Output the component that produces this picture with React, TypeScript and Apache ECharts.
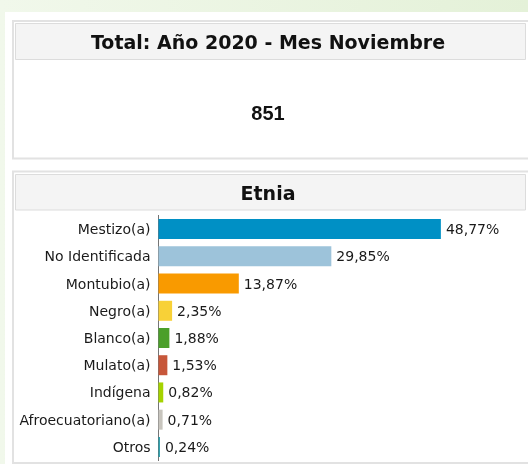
import React, { useEffect, useRef } from "react";
import * as echarts from "echarts";

const categories = [
  "Mestizo(a)",
  "No Identificada",
  "Montubio(a)",
  "Negro(a)",
  "Blanco(a)",
  "Mulato(a)",
  "Indígena",
  "Afroecuatoriano(a)",
  "Otros",
];
const values = [48.77, 29.85, 13.87, 2.35, 1.88, 1.53, 0.82, 0.71, 0.24];
const barColors = [
  "#0090c5",
  "#9dc3da",
  "#f99a00",
  "#f8d137",
  "#4b9f2a",
  "#c7573a",
  "#a5d300",
  "#c8c5be",
  "#1998a6",
];
const totalTitle = "Total: Año 2020 - Mes Noviembre";
const totalValue = 851;
const chartTitle = "Etnia";

const fmt = (v: number) => v.toFixed(2).replace(".", ",") + "%";

export default function App() {
  const ref = useRef<HTMLDivElement>(null);
  useEffect(() => {
    if (!ref.current) return;
    const chart = echarts.init(ref.current, undefined, { renderer: "svg" });
    const titleFont = "'DejaVu Sans', Tahoma, sans-serif";
    const labelFont = "'DejaVu Sans', Verdana, sans-serif";
    chart.setOption({
      animation: false,
      graphic: [
        {
          type: "rect",
          z: 0,
          shape: { x: 0, y: 0, width: 528, height: 464 },
          style: {
            fill: new echarts.graphic.LinearGradient(0, 0, 1, 0, [
              { offset: 0, color: "#f1f8eb" },
              { offset: 1, color: "#e4f1d8" },
            ]),
          },
        },
        {
          type: "rect",
          z: 0,
          shape: { x: 5, y: 12, width: 523, height: 452 },
          style: { fill: "#ffffff" },
        },
        {
          type: "rect",
          z: 0,
          shape: { x: 13, y: 21, width: 516, height: 137.5 },
          style: { fill: "#ffffff", stroke: "#e2e2e2", lineWidth: 2 },
        },
        {
          type: "rect",
          z: 0,
          shape: { x: 15.5, y: 23.5, width: 510, height: 36 },
          style: { fill: "#f4f4f4", stroke: "#dcdcdc", lineWidth: 1 },
        },
        {
          type: "text",
          z: 1,
          x: 268,
          y: 42,
          style: {
            text: totalTitle,
            fill: "#111111",
            font: "bold 19px " + titleFont,
            align: "center",
            verticalAlign: "middle",
          },
        },
        {
          type: "text",
          z: 1,
          x: 268,
          y: 112.5,
          style: {
            text: String(totalValue),
            fill: "#111111",
            font: "bold 20px 'Liberation Sans', Arial, sans-serif",
            align: "center",
            verticalAlign: "middle",
          },
        },
        {
          type: "rect",
          z: 0,
          shape: { x: 13, y: 171.5, width: 516, height: 291.5 },
          style: { fill: "#ffffff", stroke: "#e2e2e2", lineWidth: 2 },
        },
        {
          type: "rect",
          z: 0,
          shape: { x: 15.5, y: 174.5, width: 510, height: 35.5 },
          style: { fill: "#f4f4f4", stroke: "#dcdcdc", lineWidth: 1 },
        },
        {
          type: "text",
          z: 1,
          x: 268,
          y: 193,
          style: {
            text: chartTitle,
            fill: "#111111",
            font: "bold 19px " + titleFont,
            align: "center",
            verticalAlign: "middle",
          },
        },
      ],
      grid: {
        left: 158.5,
        top: 215.5,
        width: 347.4,
        height: 245,
        containLabel: false,
      },
      xAxis: {
        type: "value",
        min: 0,
        max: 60,
        show: false,
      },
      yAxis: {
        type: "category",
        inverse: true,
        data: categories,
        axisLine: {
          show: true,
          lineStyle: { color: "#666666", type: "dotted", width: 1 },
        },
        axisTick: { show: false },
        axisLabel: {
          color: "#1a1a1a",
          fontSize: 14,
          fontFamily: labelFont,
          margin: 8,
        },
      },
      series: [
        {
          type: "bar",
          barWidth: 20,
          z: 3,
          data: values.map((v, i) => ({
            value: v,
            itemStyle: { color: barColors[i] },
          })),
          label: {
            show: true,
            position: "right",
            distance: 5,
            color: "#1a1a1a",
            fontSize: 14,
            fontFamily: labelFont,
            formatter: (p: any) => fmt(p.value),
          },
        },
      ],
    });
    return () => chart.dispose();
  }, []);
  return (
    <div
      ref={ref}
      style={{ position: "fixed", left: 0, top: 0, width: 528, height: 464 }}
    />
  );
}
